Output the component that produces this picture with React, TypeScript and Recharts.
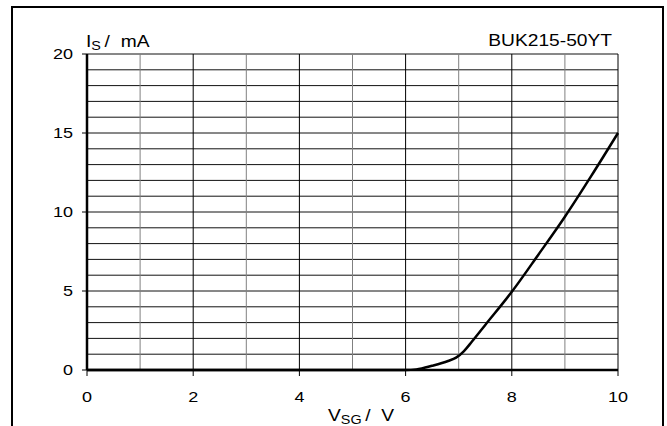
import React from "react";
import { LineChart, Line, XAxis, YAxis, ReferenceLine } from "recharts";

// V_SG (V) vs I_S (mA)
const vsg = [0, 1, 2, 3, 4, 5, 6, 6.2, 6.5, 6.8, 6.95, 7.1, 7.25, 7.5, 8, 8.5, 9, 9.5, 10];
const isMa = [0, 0, 0, 0, 0, 0, 0, 0.04, 0.27, 0.57, 0.78, 1.2, 1.8, 2.85, 4.95, 7.3, 9.7, 12.3, 15];

const xTicks = [0, 2, 4, 6, 8, 10];
const yTicks = [0, 5, 10, 15, 20];
const gridXMajor = [2, 4, 6, 8, 10];
const gridXMinor = [1, 3, 5, 7, 9];
const gridY = [1, 2, 3, 4, 5, 6, 7, 8, 9, 10, 11, 12, 13, 14, 15, 16, 17, 18, 19, 20];

const data = vsg.map((v, i) => ({ v, i: isMa[i] }));

const FONT = "'Liberation Sans', Arial, sans-serif";
const STRETCH = 1.2; // the source text is drawn a bit wide

const XTick = (props: any) => {
  const { x, y, payload } = props;
  return (
    <g transform={`translate(${x},${y}) scale(${STRETCH},1)`}>
      <text textAnchor="middle" dy="0.71em" fontSize={15} fontFamily={FONT} fill="#000">
        {payload.value}
      </text>
    </g>
  );
};

const YTick = (props: any) => {
  const { x, y, payload } = props;
  return (
    <g transform={`translate(${x},${y}) scale(${STRETCH},1)`}>
      <text textAnchor="end" dy="0.355em" fontSize={15} fontFamily={FONT} fill="#000">
        {payload.value}
      </text>
    </g>
  );
};

const App: React.FC = () => {
  return (
    <div
      style={{
        position: "absolute",
        left: 0,
        top: 0,
        width: 667,
        height: 426,
        background: "#fff",
        overflow: "hidden",
        fontFamily: FONT,
      }}
    >
      <div
        style={{
          position: "absolute",
          left: 11,
          top: 6,
          width: 649,
          height: 440,
          border: "2px solid #000",
        }}
      />
      <LineChart
        width={667}
        height={426}
        data={data}
        margin={{ top: 54, right: 49, bottom: 26, left: 27 }}
        style={{ position: "absolute", left: 0, top: 0 }}
      >
        <XAxis
          dataKey="v"
          type="number"
          domain={[0, 10]}
          ticks={xTicks}
          height={30}
          axisLine={false}
          tickLine={{ stroke: "#000", strokeWidth: 1 }}
          tickSize={6}
          tickMargin={15}
          tick={<XTick />}
        />
        <YAxis
          type="number"
          domain={[0, 20]}
          ticks={yTicks}
          width={60}
          axisLine={false}
          tickLine={{ stroke: "#000", strokeWidth: 1 }}
          tickSize={5}
          tickMargin={9}
          tick={<YTick />}
        />
        {gridY.map((y) => (
          <ReferenceLine key={"y" + y} y={y} stroke="#111" strokeWidth={1} />
        ))}
        {gridXMinor.map((x) => (
          <ReferenceLine key={"xm" + x} x={x} stroke="#808080" strokeWidth={1} />
        ))}
        {gridXMajor.map((x) => (
          <ReferenceLine key={"xM" + x} x={x} stroke="#000" strokeWidth={1} />
        ))}
        <ReferenceLine x={0} stroke="#000" strokeWidth={2.5} />
        <ReferenceLine y={0} stroke="#000" strokeWidth={2.5} />
        <Line
          type="monotone"
          dataKey="i"
          stroke="#000"
          strokeWidth={2.5}
          dot={false}
          isAnimationActive={false}
        />
      </LineChart>
      <svg
        width={667}
        height={426}
        style={{ position: "absolute", left: 0, top: 0, pointerEvents: "none" }}
      >
        <g transform={`translate(86,46.5) scale(${STRETCH},1)`}>
          <text x={0} y={0} fontSize={16} fontFamily={FONT} fill="#000">
            I
            <tspan fontSize={12} dy={3}>S</tspan>
            <tspan dy={-3} dx={3}>/</tspan>
            <tspan dx={9}>mA</tspan>
          </text>
        </g>
        <g transform={`translate(612,45.5) scale(${STRETCH},1)`}>
          <text x={0} y={0} fontSize={16} fontFamily={FONT} fill="#000" textAnchor="end">
            BUK215-50YT
          </text>
        </g>
        <g transform={`translate(328,421) scale(${STRETCH},1)`}>
          <text x={0} y={0} fontSize={16} fontFamily={FONT} fill="#000">
            V
            <tspan fontSize={12} dy={3}>SG</tspan>
            <tspan dy={-3} dx={3}>/</tspan>
            <tspan dx={9}>V</tspan>
          </text>
        </g>
      </svg>
    </div>
  );
};

export default App;
